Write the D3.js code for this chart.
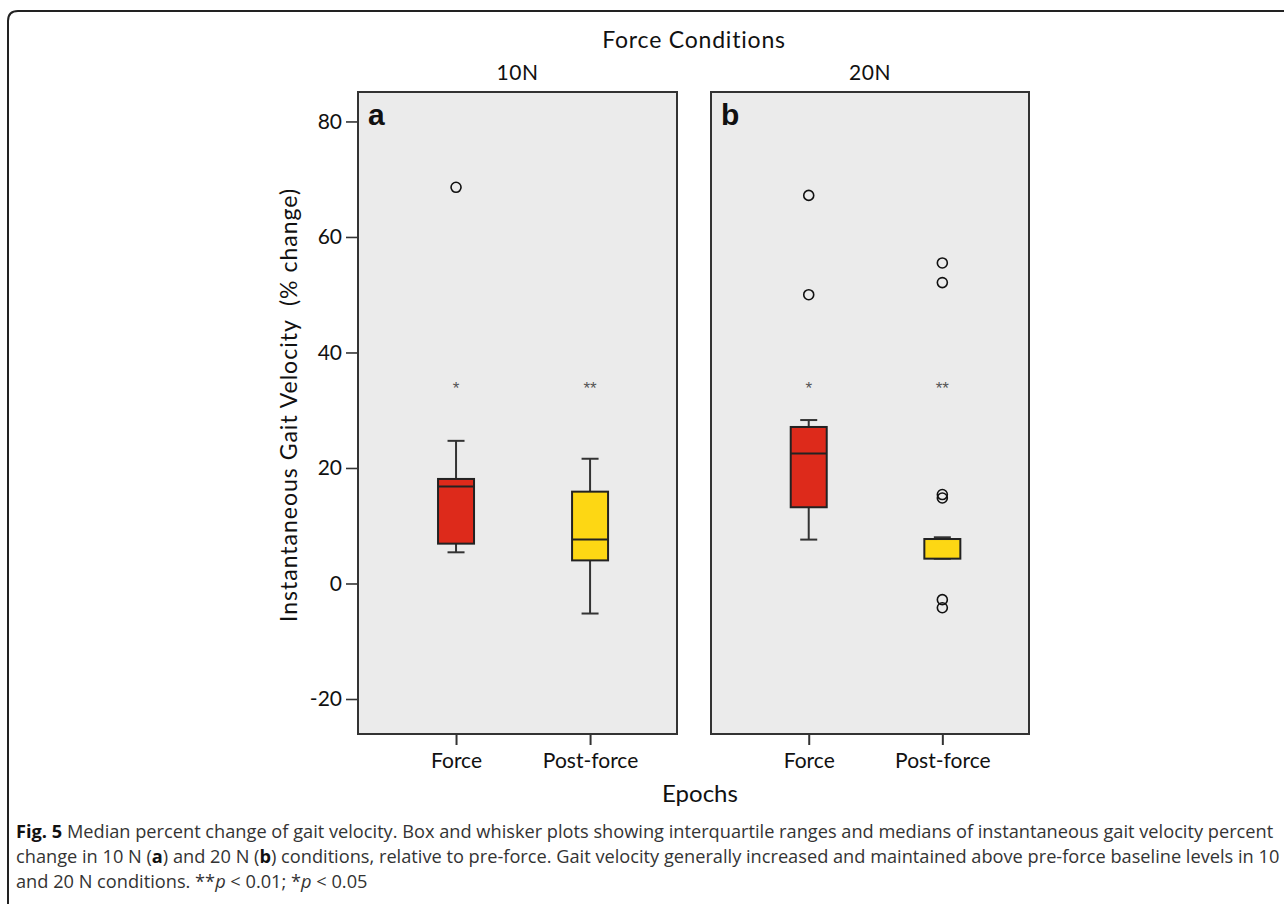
<!DOCTYPE html>
<html>
<head>
<meta charset="utf-8">
<script src="https://cdn.jsdelivr.net/npm/d3@7"></script>
<style>
  body { margin: 0; background: #fff; }
  svg { display: block; }
  .ct { font-family: Lato, "Noto Sans", sans-serif; fill: #111; }
  .caption { font-family: "Open Sans", "Noto Sans", sans-serif; fill: #333; }
</style>
</head>
<body>
<svg id="chart" width="1284" height="904"></svg>
<script>
const panelNames = ['10N', '20N'];
const panelLetters = ['a', 'b'];
const epochs = ['Force', 'Post-force'];
const yTicks = [-20, 0, 20, 40, 60, 80];
// per epoch: [lower whisker, Q1, median, Q3, upper whisker]
const stats10N = [[5.4, 6.9, 16.8, 18.1, 24.7], [-5.2, 4.0, 7.6, 15.9, 21.6]];
const stats20N = [[7.6, 13.2, 22.5, 27.1, 28.3], [4.3, 4.3, 7.7, 7.7, 8.0]];
const outliers10N = [[68.6], []];
const outliers20N = [[67.2, 50.0], [55.5, 52.1, 15.4, 14.8, -2.8, -4.2]];
const sigMarks = ['*', '**'];
const sigLevel = 34.5;
const boxColors = ['#dd2a1b', '#fdd714'];

const panelStats = [stats10N, stats20N];
const panelOutliers = [outliers10N, outliers20N];

document.addEventListener('DOMContentLoaded', () => {
  const svg = d3.select('#chart');
  const panelX = [[358, 677], [711, 1029]];
  const plotTop = 92;
  const plotBottom = 734;
  const boxW = 36;
  const capW = 17;

  const y = d3.scaleLinear()
    .domain([-26.06, 85.1])
    .range([plotBottom, plotTop]);

  // outer figure frame
  svg.append('path')
    .attr('d', 'M8,904 V21 Q8,11 18,11 H1284')
    .attr('fill', 'none')
    .attr('stroke', '#222')
    .attr('stroke-width', 2);

  svg.append('text')
    .classed('ct', true)
    .attr('x', 694)
    .attr('y', 48)
    .attr('text-anchor', 'middle')
    .style('font-size', '23px')
    .style('letter-spacing', '0.8px')
    .text('Force Conditions');

  panelNames.forEach((name, p) => {
    const [x0, x1] = panelX[p];
    const x = d3.scalePoint()
      .domain(epochs)
      .range([x0, x1])
      .padding(0.69)
      .align(0.53);
    const g = svg.append('g');

    g.append('rect')
      .attr('x', x0)
      .attr('y', plotTop)
      .attr('width', x1 - x0)
      .attr('height', plotBottom - plotTop)
      .attr('fill', '#ebebeb')
      .attr('stroke', '#333')
      .attr('stroke-width', 2);

    g.append('text')
      .classed('ct', true)
      .attr('x', (x0 + x1) / 2)
      .attr('y', 80)
      .attr('text-anchor', 'middle')
      .style('font-size', '21px')
      .style('letter-spacing', '0.5px')
      .text(name);

    g.append('text')
      .attr('x', x0 + 10)
      .attr('y', 125)
      .style('font-family', '"Liberation Sans", Arial, sans-serif')
      .style('font-weight', 'bold')
      .style('font-size', '30px')
      .attr('fill', '#111')
      .text(panelLetters[p]);

    // x axis
    const xAxis = g.append('g')
      .attr('transform', `translate(0,${plotBottom})`)
      .call(d3.axisBottom(x).tickSize(11).tickPadding(8));
    xAxis.select('.domain').remove();
    xAxis.selectAll('line').attr('stroke', '#333').attr('stroke-width', 2);
    xAxis.selectAll('text')
      .attr('class', 'ct')
      .style('font-size', '21px')
      .attr('fill', '#111');

    if (p === 0) {
      const yAxis = g.append('g')
        .attr('transform', `translate(${x0},0)`)
        .call(d3.axisLeft(y).tickValues(yTicks).tickFormat(d => String(d)).tickSize(12).tickPadding(4));
      yAxis.select('.domain').remove();
      yAxis.selectAll('line').attr('stroke', '#333').attr('stroke-width', 1.6);
      yAxis.selectAll('text')
        .attr('class', 'ct')
        .style('font-size', '21px')
        .attr('fill', '#111');
    }

    const boxes = g.selectAll('g.box')
      .data(epochs.map((e, i) => ({ epoch: e, s: panelStats[p][i], out: panelOutliers[p][i], i })))
      .enter()
      .append('g')
      .classed('box', true);

    // whiskers
    boxes.append('line')
      .attr('x1', d => x(d.epoch))
      .attr('x2', d => x(d.epoch))
      .attr('y1', d => y(d.s[0]))
      .attr('y2', d => y(d.s[4]))
      .attr('stroke', '#333')
      .attr('stroke-width', 2);
    [0, 4].forEach((k) => {
      boxes.append('line')
        .attr('x1', d => x(d.epoch) - capW / 2)
        .attr('x2', d => x(d.epoch) + capW / 2)
        .attr('y1', d => y(d.s[k]))
        .attr('y2', d => y(d.s[k]))
        .attr('stroke', '#333')
        .attr('stroke-width', 2);
    });

    boxes.append('rect')
      .attr('x', d => x(d.epoch) - boxW / 2)
      .attr('y', d => y(d.s[3]))
      .attr('width', boxW)
      .attr('height', d => y(d.s[1]) - y(d.s[3]))
      .attr('fill', d => boxColors[d.i])
      .attr('stroke', '#222')
      .attr('stroke-width', 2);

    boxes.append('line')
      .attr('x1', d => x(d.epoch) - boxW / 2)
      .attr('x2', d => x(d.epoch) + boxW / 2)
      .attr('y1', d => y(d.s[2]))
      .attr('y2', d => y(d.s[2]))
      .attr('stroke', '#222')
      .attr('stroke-width', 2);

    boxes.selectAll('circle')
      .data(d => d.out.map(v => ({ epoch: d.epoch, v })))
      .enter()
      .append('circle')
      .attr('cx', d => x(d.epoch))
      .attr('cy', d => y(d.v))
      .attr('r', 5)
      .attr('fill', 'none')
      .attr('stroke', '#111')
      .attr('stroke-width', 1.6);

    boxes.append('text')
      .attr('x', d => x(d.epoch))
      .attr('y', y(sigLevel) + 10)
      .attr('text-anchor', 'middle')
      .style('font-family', '"Liberation Sans", Arial, sans-serif')
      .style('font-size', '17px')
      .attr('fill', '#555')
      .text(d => sigMarks[d.i]);
  });

  // axis titles
  svg.append('text')
    .classed('ct', true)
    .attr('transform', 'translate(297,405) rotate(-90)')
    .attr('text-anchor', 'middle')
    .style('font-size', '23px')
    .style('letter-spacing', '1px')
    .style('white-space', 'pre')
    .text('Instantaneous Gait Velocity  (% change)');

  svg.append('text')
    .classed('ct', true)
    .attr('x', 700)
    .attr('y', 802)
    .attr('text-anchor', 'middle')
    .style('font-size', '24px')
    .text('Epochs');

  // caption
  const capLines = [
    [['Fig. 5', 'b'], [' Median percent change of gait velocity. Box and whisker plots showing interquartile ranges and medians of instantaneous gait velocity percent', '']],
    [['change in 10 N (', ''], ['a', 'b'], [') and 20 N (', ''], ['b', 'b'], [') conditions, relative to pre-force. Gait velocity generally increased and maintained above pre-force baseline levels in 10', '']],
    [['and 20 N conditions. **', ''], ['p', 'i'], [' < 0.01; *', ''], ['p', 'i'], [' < 0.05', '']],
  ];
  const capBase = [838, 863, 888];
  const caption = svg.append('g').classed('caption', true);
  const lines = caption.selectAll('text')
    .data(capLines)
    .enter()
    .append('text')
    .attr('x', 16)
    .attr('y', (d, i) => capBase[i])
    .style('font-size', '16px')
    .style('white-space', 'pre');
  lines.selectAll('tspan')
    .data(d => d)
    .enter()
    .append('tspan')
    .style('font-weight', d => (d[1] === 'b' ? 'bold' : null))
    .style('font-style', d => (d[1] === 'i' ? 'italic' : null))
    .attr('fill', d => (d[1] === 'b' ? '#111' : null))
    .text(d => d[0]);

  // fit the caption's first line to the figure width
  const w = lines.node().getComputedTextLength();
  const fs = 16 * 1258 / w;
  lines.style('font-size', `${fs}px`);
});
</script>
</body>
</html>
